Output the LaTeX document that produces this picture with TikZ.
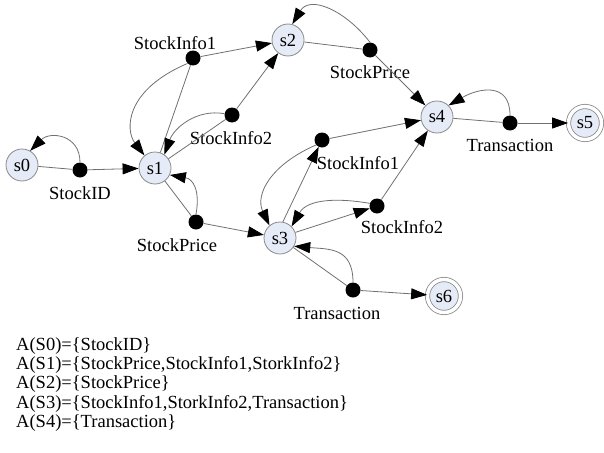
\documentclass[tikz,border=0pt]{standalone}
\usepackage{fontspec}
\setmainfont{Liberation Serif}
\usetikzlibrary{arrows.meta}
\definecolor{stfill}{HTML}{E6ECF7}
\definecolor{stdraw}{HTML}{8A8A8A}
\definecolor{edge}{HTML}{707070}
\begin{document}
\begin{tikzpicture}[x=1pt,y=1pt,
  every node/.style={font=\fontsize{18.5}{22}\selectfont},
  state/.style={circle,draw=stdraw,fill=stfill,line width=0.8pt,minimum size=32pt,inner sep=0pt},
  final/.style={state,minimum size=33pt,double=white,double distance=3.5pt},
  dot/.style={circle,fill=black,minimum size=15pt,inner sep=0pt},
  ln/.style={draw=edge,line width=0.8pt},
  arr/.style={ln,-{Triangle[length=16pt,width=11pt,fill=black,color=black]}},
  lbl/.style={inner sep=0pt}]
\useasboundingbox (0,0) rectangle (604,-452);
% states
\node[state] (s0) at (22,-165) {s0};
\node[state] (s1) at (155,-168) {s1};
\node[state] (s2) at (288,-40) {s2};
\node[state] (s3) at (280,-238) {s3};
\node[state] (s4) at (437,-117) {s4};
\node[final] (s5) at (585,-123) {s5};
\node[final] (s6) at (444,-296) {s6};
% dots
\node[dot] (d0) at (80,-170) {};
\node[dot] (d1a) at (193,-58) {};
\node[dot] (d1b) at (232,-115) {};
\node[dot] (d1c) at (196,-222) {};
\node[dot] (d2) at (370,-50) {};
\node[dot] (d3a) at (322,-140) {};
\node[dot] (d3b) at (377,-206) {};
\node[dot] (d3c) at (353,-290) {};
\node[dot] (d4) at (510,-123) {};
% labels
\node[lbl] (l0) at (80,-193) {StockID};
\node[lbl] (l1a) at (175,-43) {StockInfo1};
\node[lbl] (l1b) at (231,-138) {StockInfo2};
\node[lbl] (l1c) at (177,-245) {StockPrice};
\node[lbl] (l2) at (370,-72) {StockPrice};
\node[lbl] (l4) at (510,-145) {Transaction};
\node[lbl] (l3a) at (358,-163) {StockInfo1};
\node[lbl] (l3b) at (402,-227) {StockInfo2};
\node[lbl] (l3c) at (337,-313) {Transaction};
% s0
\draw[ln] (s0) -- (d0);
\draw[arr] (d0) -- (s1);
\draw[arr] (d0.north) to[out=90,in=45,looseness=1.4] (s0.60);
% s1
\draw[ln] (s1) -- (d1a);
\draw[ln] (s1) -- (d1b);
\draw[ln] (s1) -- (d1c);
\draw[arr] (d1a) -- (s2);
\draw[arr] (d1b) -- (s2);
\draw[arr] (d1c) -- (s3);
\draw[arr] (d1a.225) .. controls (125,-90) and (125,-130) .. (s1.130);
\draw[arr] (d1b.170) to[out=170,in=70] (s1.55);
\draw[arr] (d1c.north) to[out=80,in=-10,looseness=1.3] (s1.-25);
% s2
\draw[ln] (s2) -- (d2);
\draw[arr] (d2) -- (s4);
\draw[arr] (d2.north) .. controls (345,-10) and (310,5) .. (s2.75);
% s4
\draw[ln] (s4) -- (d4);
\draw[arr] (d4) -- (s5);
\draw[arr] (d4.north) to[out=90,in=30,looseness=1.4] (s4.45);
% s3
\draw[arr] (s3.80) -- (d3a);
\draw[arr] (d3a) -- (s4);
\draw[arr] (d3a.220) .. controls (270,-165) and (255,-195) .. (s3.130);
\draw[arr] (s3.20) -- (d3b);
\draw[arr] (d3b) -- (s4);
\draw[arr] (d3b.160) to[out=170,in=60] (s3.45);
\draw[ln] (s3) -- (d3c);
\draw[arr] (d3c) -- (s6);
\draw[arr] (d3c.north) to[out=90,in=-5,looseness=1.3] (s3.-30);
% annotations
\node[lbl,anchor=base west] (t0) at (16,-350) {A(S0)=\{StockID\}};
\node[lbl,anchor=base west] (t1) at (16,-369) {A(S1)=\{StockPrice,StockInfo1,StorkInfo2\}};
\node[lbl,anchor=base west] (t2) at (16,-388) {A(S2)=\{StockPrice\}};
\node[lbl,anchor=base west] (t3) at (16,-408) {A(S3)=\{StockInfo1,StorkInfo2,Transaction\}};
\node[lbl,anchor=base west] (t4) at (16,-427) {A(S4)=\{Transaction\}};
\end{tikzpicture}
\end{document}
